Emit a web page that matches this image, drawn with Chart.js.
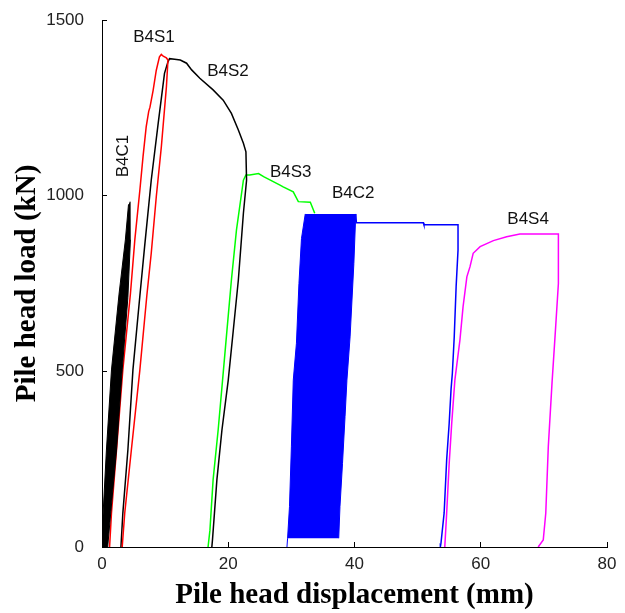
<!DOCTYPE html>
<html>
<head>
<meta charset="utf-8">
<script src="https://cdn.jsdelivr.net/npm/chart.js@4.4.1/dist/chart.umd.min.js"></script>
<style>
  html, body { margin: 0; padding: 0; background: #fff; }
  #wrap { width: 625px; height: 613px; }
</style>
</head>
<body>
<div id="wrap"><canvas id="pileChart" width="625" height="613"></canvas></div>
<script>
// displacement (mm), load (kN)
var b4c1Left = [[0, 0], [0.1, 70], [0.7, 276], [1.5, 504], [2.7, 720], [3.7, 874], [4.2, 975]];
var b4c1Right = [[0.9, 0], [1.4, 100], [2.3, 276], [3.2, 504], [4.1, 710], [4.5, 874], [4.45, 983]];

var b4s1 = [[1.2, 0], [1.5, 96], [2.3, 276], [3.3, 504], [4.5, 720], [5.2, 874], [6.0, 1016], [6.5, 1111],
  [7.0, 1196], [7.4, 1240], [7.6, 1252], [8.1, 1300], [8.6, 1357], [9.1, 1395], [9.4, 1402], [9.7, 1397],
  [10.2, 1392], [10.45, 1386], [10.2, 1309], [9.4, 1139], [8.6, 997], [7.8, 836], [7.1, 715], [6.0, 504],
  [4.65, 276], [3.6, 96], [3.2, 0]];

var b4s2 = [[3.0, 0], [3.3, 96], [4.1, 276], [4.9, 504], [6.0, 715], [6.75, 855], [7.8, 1044], [8.9, 1206],
  [9.9, 1348], [10.45, 1381], [10.7, 1390], [11.5, 1388], [12.4, 1386], [13.4, 1377], [14.2, 1358],
  [15.5, 1334], [17.6, 1301], [19.2, 1272], [20.5, 1234], [21.6, 1187], [22.4, 1149], [22.8, 1125],
  [22.9, 1044], [22.4, 950], [21.6, 760], [20.8, 617], [20.0, 475], [19.0, 333], [18.2, 191], [17.5, 20], [17.4, 0]];

var b4s3 = [[16.8, 0], [17.1, 48], [17.6, 191], [18.4, 333], [19.1, 475], [19.8, 618], [20.5, 760], [21.3, 902],
  [22.4, 1044], [22.8, 1059], [23.4, 1059], [24.8, 1063], [25.6, 1054], [28.2, 1030], [28.7, 1025],
  [30.3, 1011], [31.1, 983], [33.0, 981], [33.7, 950]];

var b4c2Left = [[29.3, 0], [29.4, 25], [29.7, 115], [30.0, 285], [30.3, 475], [30.8, 580], [31.2, 750], [31.6, 878], [32.2, 948]];
var b4c2Right = [[37.5, 25], [37.7, 115], [38.1, 238], [38.5, 371], [38.8, 475], [39.3, 598], [39.9, 807], [40.2, 948]];
var b4c2 = [[40.2, 948], [40.3, 923], [50.9, 923], [51.0, 917], [56.4, 917], [56.4, 845], [56.1, 741], [55.8, 598],
  [55.5, 494], [55.3, 450], [55.0, 352], [54.6, 248], [54.2, 97], [53.7, 11], [53.6, 0]];

var b4s4 = [[54.3, 0], [54.6, 96], [55.0, 238], [55.4, 352], [55.9, 475], [56.7, 589], [57.2, 684], [57.8, 769],
  [58.3, 798], [58.8, 836], [59.9, 855], [62.0, 872], [64.1, 883], [66.2, 891], [72.3, 891], [72.3, 750],
  [71.8, 608], [71.3, 470], [70.7, 285], [70.3, 96], [69.9, 20], [69.1, 0]];

var xTicks = [0, 20, 40, 60, 80];
var yTicks = [0, 500, 1000, 1500];

// curve names and where their tags sit (data units)
var curveLabels = [
  { text: "B4S1", x: 8.24, y: 1450, rotate: false },
  { text: "B4S2", x: 19.96, y: 1355, rotate: false },
  { text: "B4C1", x: 3.33, y: 1113, rotate: true },
  { text: "B4S3", x: 29.9, y: 1066, rotate: false },
  { text: "B4C2", x: 39.8, y: 1007, rotate: false },
  { text: "B4S4", x: 67.5, y: 934, rotate: false }
];

function pts(arr) {
  return arr.map(function(p) { return { x: p[0], y: p[1] }; });
}

function lineSet(label, arr, color) {
  return {
    label: label,
    data: pts(arr),
    showLine: true,
    borderColor: color,
    backgroundColor: color,
    borderWidth: 1.5,
    pointRadius: 0,
    fill: false,
    tension: 0
  };
}

function bandEdge(label, arr, color, fillNext) {
  return {
    label: label,
    data: pts(arr),
    indexAxis: 'y',
    showLine: true,
    borderColor: color,
    backgroundColor: color,
    borderWidth: 1,
    pointRadius: 0,
    fill: fillNext ? '+1' : false,
    tension: 0
  };
}

var labelPlugin = {
  id: 'curveLabels',
  afterDatasetsDraw: function(chart) {
    var ctx = chart.ctx;
    var xs = chart.scales.x, ys = chart.scales.y;
    ctx.save();
    ctx.fillStyle = "#111";
    ctx.font = "17px 'Liberation Sans', Arial, sans-serif";
    ctx.textAlign = "center";
    ctx.textBaseline = "middle";
    for (var i = 0; i < curveLabels.length; i++) {
      var l = curveLabels[i];
      var px = xs.getPixelForValue(l.x);
      var py = ys.getPixelForValue(l.y);
      ctx.save();
      ctx.translate(px, py);
      if (l.rotate) ctx.rotate(-Math.PI / 2);
      ctx.fillText(l.text, 0, 0);
      ctx.restore();
    }
    ctx.restore();
  }
};

var ctx = document.getElementById("pileChart").getContext('2d');
var pileChart = new Chart(ctx, {
  type: 'scatter',
  data: {
    datasets: [
      bandEdge('B4C1 a', b4c1Left, '#000000', true),
      bandEdge('B4C1 b', b4c1Right, '#000000', false),
      lineSet('B4S1', b4s1, '#ff0000'),
      lineSet('B4S2', b4s2, '#000000'),
      lineSet('B4S3', b4s3, '#00ff00'),
      bandEdge('B4C2 a', b4c2Left, '#0000ff', true),
      bandEdge('B4C2 b', b4c2Right, '#0000ff', false),
      lineSet('B4C2', b4c2, '#0000ff'),
      lineSet('B4S4', b4s4, '#ff00ff')
    ]
  },
  plugins: [labelPlugin],
  options: {
    responsive: false,
    animation: false,
    layout: {
      padding: { left: 0, right: 18, top: 20, bottom: 0 }
    },
    plugins: {
      legend: { display: false },
      tooltip: { enabled: false }
    },
    scales: {
      x: {
        type: 'linear',
        min: 0,
        max: 80,
        afterBuildTicks: function(scale) {
          scale.ticks = xTicks.map(function(v) { return { value: v }; });
        },
        afterFit: function(scale) {
          scale.height = 66;
          scale.paddingLeft = 0;
          scale.paddingRight = 0;
        },
        grid: { drawOnChartArea: false, tickLength: -5, color: '#000' },
        border: { color: '#000', width: 1 },
        ticks: {
          padding: 12,
          color: '#222',
          font: { family: "'Liberation Sans', Arial, sans-serif", size: 17 },
          maxRotation: 0,
          callback: function(v) { return String(v); }
        },
        title: {
          display: true,
          text: 'Pile head displacement (mm)',
          color: '#000',
          font: { family: "'Liberation Serif', 'Times New Roman', serif", size: 29, weight: 'bold' },
          padding: { top: 0, bottom: 0 }
        }
      },
      y: {
        type: 'linear',
        min: 0,
        max: 1500,
        afterBuildTicks: function(scale) {
          scale.ticks = yTicks.map(function(v) { return { value: v }; });
        },
        afterFit: function(scale) {
          scale.width = 102;
          scale.paddingTop = 0;
          scale.paddingBottom = 0;
        },
        grid: { drawOnChartArea: false, tickLength: -5, color: '#000' },
        border: { color: '#000', width: 1 },
        ticks: {
          padding: 23,
          color: '#222',
          font: { family: "'Liberation Sans', Arial, sans-serif", size: 17 },
          callback: function(v) { return String(v); }
        },
        title: {
          display: true,
          text: 'Pile head load (kN)',
          color: '#000',
          font: { family: "'Liberation Serif', 'Times New Roman', serif", size: 29, weight: 'bold' },
          padding: { top: 10, bottom: 0 }
        }
      }
    }
  }
});
</script>
</body>
</html>
